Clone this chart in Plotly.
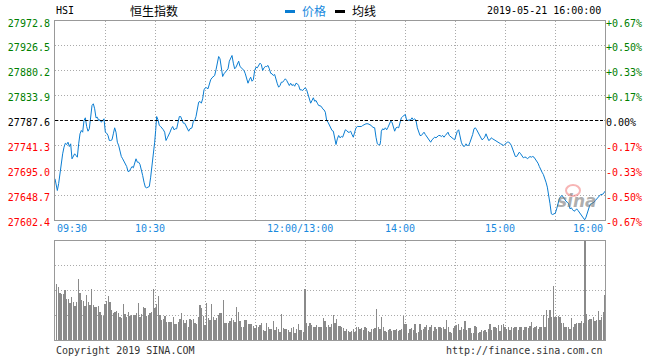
import plotly.graph_objects as go

# ---------------- data ----------------
prev_close = 27787.6
price_ticks = [27602.4, 27648.7, 27695.0, 27741.3, 27787.6, 27833.9, 27880.2, 27926.5, 27972.8]
pct_labels = ["-0.67%", "-0.50%", "-0.33%", "-0.17%", "0.00%", "+0.17%", "+0.33%", "+0.50%", "+0.67%"]
grid_minutes = [0, 30, 60, 90, 120, 150, 180, 210, 240, 270, 300, 330]
time_tick_minutes = [0, 60, 150, 210, 270, 330]
time_labels = ["09:30", "10:30", "12:00/13:00", "14:00", "15:00", "16:00"]

# trading minutes after 09:30 (lunch break removed)
minutes = [
    0, 1.0, 1.4, 2.2, 3.0, 3.8, 4.6, 5.4, 6.2, 7.0,
    7.8, 8.6, 9.4, 10.2, 11.0, 11.8, 12.6, 13.4, 14.2, 15.0,
    15.8, 16.6, 17.4, 18.2, 19.0, 19.8, 20.6, 21.4, 22.2, 23.0,
    23.8, 24.6, 25.4, 26.2, 27.0, 27.8, 28.6, 29.4, 30.2, 31.0,
    31.8, 32.6, 33.4, 34.2, 35.0, 35.8, 36.6, 37.4, 38.2, 39.0,
    39.8, 40.6, 41.4, 42.2, 43.0, 43.8, 44.6, 45.4, 46.2, 47.0,
    47.8, 48.6, 49.4, 50.2, 51.0, 51.8, 52.6, 53.4, 54.2, 55.0,
    55.8, 56.6, 57.4, 58.2, 59.0, 59.8, 60.4, 61.0, 61.8, 62.6,
    63.4, 64.2, 65.0, 65.8, 66.6, 67.4, 68.2, 69.0, 69.8, 70.6,
    71.4, 72.2, 73.0, 73.8, 74.6, 75.4, 76.2, 77.0, 77.8, 78.6,
    79.4, 80.2,
    81.0, 82.2, 83.0, 83.8, 84.6, 85.4, 86.2, 87.0, 87.8, 88.6,
    89.4, 90.2, 91.0, 91.8, 92.6, 93.4, 94.2, 95.0, 95.8, 96.6,
    97.4, 98.2, 99.0, 99.8, 100.6, 101.4, 102.2, 103.0, 103.8, 104.6,
    105.4, 106.2, 107.0, 107.8, 108.6, 109.4, 110.2, 111.0, 111.8, 112.6,
    113.4, 114.2, 115.0, 115.8, 116.6, 117.4, 118.2, 119.0, 119.8, 120.6,
    121.4, 122.2, 123.0, 123.8, 124.6, 125.4, 126.2, 127.0, 127.8, 128.6,
    129.4, 130.2, 131.0, 131.8, 132.6, 133.4, 134.2, 135.0, 135.8, 136.6,
    137.4, 138.2, 139.0, 139.8, 140.6, 141.4, 142.2, 143.0, 143.8, 144.6,
    145.4, 146.2, 147.0, 147.8, 148.6, 149.4, 150.2, 151.0, 151.8, 152.6,
    153.4, 154.2, 155.0, 155.8, 156.6, 157.4, 158.2, 159.0, 159.8, 160.6,
    161.4, 162.2, 163.0, 163.8, 164.6,
    165.4, 166.2, 167.0, 167.8, 168.6, 169.4, 170.2, 171.0, 171.8, 172.6,
    173.4, 174.2, 175.0, 175.8, 176.6, 177.4, 178.2, 179.0, 179.8, 180.6,
    181.4, 182.6, 183.8, 184.6, 185.4, 186.6, 187.8, 189.0, 189.8, 190.6,
    191.8, 192.6, 193.4, 194.2, 195.0, 195.4, 195.8, 196.6, 197.4, 198.2,
    199.0, 199.8, 200.6, 201.4, 202.2, 203.0, 203.8, 204.6, 205.4, 206.2,
    207.0, 207.8, 208.6, 209.4, 210.2, 211.0, 211.8, 212.6, 213.4, 214.2,
    215.0, 215.8, 216.6, 217.4, 218.2, 219.0, 219.8, 220.6, 221.4, 222.2,
    223.0, 223.8, 224.6, 225.4, 226.2, 227.0, 227.8, 228.6, 229.4, 230.2,
    231.0, 231.8, 232.6, 233.4, 234.2, 235.0, 235.8, 236.6, 237.4, 238.2,
    239.0, 239.8, 240.6, 241.4, 242.2, 243.0, 243.8, 244.6, 245.4, 246.2,
    246.6, 247.4, 248.2, 249.0, 249.8, 250.6, 251.4, 252.2, 253.0, 253.8,
    254.6, 255.4, 256.2, 257.0, 257.8, 258.6, 259.4, 260.2, 261.0, 261.8,
    262.6, 263.4, 264.2, 265.0, 265.8, 266.6, 267.4, 268.2, 269.0, 269.8,
    270.6, 271.4, 272.2, 273.0, 273.8, 274.6, 275.4, 276.2, 277.0, 277.8,
    278.6, 279.4, 280.2, 281.0, 281.8, 282.6, 283.4, 284.2, 285.0, 285.8,
    286.6, 287.4, 288.2, 289.0, 289.8, 290.6, 291.4, 292.2, 293.0, 293.8,
    294.6, 295.4, 296.2, 297.0, 297.8, 298.6, 299.4, 300.2, 301.0, 301.8,
    302.6, 303.4, 304.2, 305.0, 305.8, 306.6, 307.4, 308.2, 309.0, 309.8,
    310.6, 311.4, 312.2, 313.0, 313.8, 314.6, 315.4, 316.2, 317.0, 317.8,
    318.6, 319.4, 320.2, 321.0, 321.8, 322.6, 323.4, 324.2, 325.0, 325.8,
    326.6, 327.4, 328.2, 329.0, 330.0,
]
prices = [
    27679.1, 27666.6, 27657.3, 27670.3, 27691.4, 27710.0, 27725.6, 27737.9, 27745.3, 27742.9,
    27747.2, 27739.2, 27744.2, 27716.3, 27722.5, 27725.6, 27722.5, 27719.3, 27744.2, 27762.8,
    27769.0, 27765.8, 27787.6, 27792.6, 27776.4, 27767.7, 27772.2, 27790.8, 27815.5, 27818.7,
    27809.4, 27792.6, 27793.7, 27787.6, 27788.9, 27784.4, 27787.6, 27790.8, 27765.8, 27764.0,
    27759.7, 27750.4, 27750.4, 27751.7, 27762.8, 27774.0, 27765.8, 27747.2, 27741.1, 27730.5,
    27720.6, 27716.3, 27711.8, 27708.1, 27702.0, 27692.7, 27693.2, 27697.7, 27702.0, 27699.6,
    27707.0, 27716.3, 27710.0, 27710.0, 27705.7, 27697.7, 27685.2, 27672.8, 27663.5, 27662.3,
    27663.5, 27664.8, 27682.1, 27700.7, 27722.5, 27747.2, 27769.0, 27795.0, 27788.9, 27778.3,
    27776.4, 27774.0, 27770.3, 27765.8, 27750.4, 27755.4, 27759.7, 27765.8, 27772.2, 27776.4,
    27770.3, 27772.2, 27772.2, 27784.4, 27795.0, 27795.0, 27787.6, 27782.6, 27782.6, 27778.3,
    27774.0, 27767.7,
    27772.2, 27774.0, 27786.3, 27787.6, 27795.0, 27809.4, 27821.7, 27823.0, 27819.8, 27828.0,
    27844.7, 27848.5, 27848.5, 27846.6, 27857.0, 27863.4, 27867.1, 27869.5, 27871.4, 27882.0,
    27891.8, 27906.7, 27902.4, 27886.8, 27869.5, 27874.5, 27877.5, 27880.7, 27883.8, 27898.0,
    27905.4, 27908.6, 27894.3, 27883.8, 27886.8, 27891.8, 27898.0, 27888.1, 27885.7, 27883.8,
    27880.7, 27874.5, 27863.4, 27857.0, 27863.4, 27868.2, 27860.7, 27863.4, 27880.7, 27886.8,
    27885.7, 27890.0, 27894.3, 27891.8, 27880.7, 27885.7, 27888.1, 27888.1, 27890.0, 27883.8,
    27875.6, 27874.5, 27871.4, 27873.2, 27863.4, 27855.9, 27849.6, 27852.7, 27858.9, 27858.9,
    27862.1, 27865.2, 27862.1, 27855.9, 27852.7, 27857.0, 27852.7, 27854.6, 27851.4, 27857.0,
    27855.9, 27852.7, 27844.7, 27844.7, 27843.4, 27846.6, 27848.5, 27844.7, 27837.3, 27828.0,
    27819.8, 27824.8, 27829.9, 27823.5, 27824.8, 27819.8, 27815.5, 27815.0, 27813.7, 27809.4,
    27807.5, 27803.0, 27787.6, 27784.4, 27780.2,
    27774.0, 27769.0, 27767.7, 27753.5, 27742.9, 27753.5, 27759.7, 27755.4, 27757.8, 27756.5,
    27765.8, 27770.3, 27769.0, 27765.8, 27765.8, 27767.7, 27761.5, 27756.5, 27765.8, 27774.0,
    27776.4, 27776.4, 27776.4, 27778.3, 27780.2, 27781.5, 27781.5, 27780.2, 27778.3, 27775.1,
    27774.0, 27756.5, 27744.2, 27742.4, 27742.4, 27750.4, 27767.7, 27772.2, 27770.3, 27774.0,
    27770.3, 27775.1, 27781.5, 27786.3, 27784.4, 27776.4, 27767.7, 27774.0, 27775.1, 27774.0,
    27784.4, 27792.6, 27795.0, 27796.9, 27798.8, 27787.6, 27787.6, 27788.9, 27788.9, 27792.6,
    27788.9, 27790.8, 27787.6, 27774.0, 27767.7, 27759.7, 27759.7, 27764.0, 27765.8, 27761.5,
    27757.8, 27753.5, 27749.1, 27747.2, 27751.7, 27753.5, 27756.5, 27755.4, 27757.8, 27759.7,
    27759.7, 27757.8, 27759.7, 27756.5, 27759.7, 27762.8, 27765.8, 27759.7, 27756.5, 27755.4,
    27753.5, 27751.7, 27759.7, 27767.7, 27770.3, 27757.8, 27747.2, 27741.1, 27739.2, 27741.1,
    27744.2, 27741.1, 27741.1, 27747.2, 27753.5, 27761.5, 27772.2, 27774.0, 27770.3, 27765.8,
    27759.7, 27755.4, 27751.7, 27753.5, 27756.5, 27762.8, 27756.5, 27750.4, 27751.7, 27755.4,
    27753.5, 27751.7, 27750.4, 27749.1, 27747.2, 27745.3, 27744.2, 27742.9, 27741.1, 27742.9,
    27745.3, 27747.2, 27747.2, 27745.3, 27741.1, 27734.9, 27726.7, 27720.6, 27720.6, 27724.3,
    27728.6, 27725.6, 27720.6, 27718.2, 27719.3, 27719.3, 27716.3, 27718.2, 27720.6, 27719.3,
    27720.6, 27719.3, 27716.3, 27711.8, 27708.1, 27702.0, 27694.5, 27691.4, 27687.1, 27680.9,
    27672.8, 27663.5, 27651.2, 27632.6, 27613.9, 27612.6, 27613.9, 27615.1, 27623.2, 27633.7,
    27641.9, 27646.1, 27648.0, 27644.8, 27640.0, 27637.4, 27635.5, 27632.6, 27623.2, 27625.1,
    27621.4, 27618.8, 27620.1, 27623.2, 27620.1, 27616.9, 27613.9, 27610.8, 27606.5, 27602.8,
    27607.6, 27616.9, 27626.2, 27631.3, 27632.6, 27633.7, 27635.5, 27638.7, 27641.9, 27644.8,
    27648.0, 27649.9, 27649.9, 27651.2, 27656.0,
]

# per-minute volume (relative units), minutes 1..330
volumes = [
    168, 158, 140, 138, 138, 150, 123, 123, 112, 128,
    115, 102, 115, 182, 142, 120, 118, 102, 135, 115,
    105, 152, 105, 100, 98, 102, 85, 75, 72, 108,
    118, 132, 115, 90, 80, 85, 87, 80, 68, 65,
    108, 78, 68, 85, 72, 75, 75, 75, 82, 110,
    68, 78, 98, 95, 72, 75, 80, 85, 152, 95,
    108, 132, 75, 60, 62, 72, 55, 55, 54, 55,
    68, 48, 48, 55, 62, 80, 60, 50, 60, 40,
    62, 60, 62, 50, 48, 70, 105, 95, 72, 45,
    112, 65, 60, 108, 68, 60, 65, 75, 80, 82,
    120, 50, 50, 52, 58, 65, 60, 55, 98, 85,
    58, 40, 40, 60, 60, 48, 48, 48, 42, 35,
    45, 40, 45, 50, 30, 28, 50, 38, 32, 32,
    58, 30, 40, 32, 25, 78, 35, 32, 32, 30,
    25, 35, 38, 22, 32, 48, 30, 30, 25, 152,
    52, 42, 50, 45, 40, 38, 45, 40, 38, 40,
    65, 58, 40, 45, 38, 48, 75, 52, 62, 42,
    42, 38, 35, 28, 32, 28, 25, 28, 32, 25,
    38, 38, 32, 35, 30, 38, 35, 28, 25, 32,
    34, 35, 92, 38, 34, 68, 38, 28, 25, 30,
    32, 28, 30, 30, 32, 28, 30, 34, 72, 48,
    48, 22, 32, 35, 30, 48, 22, 25, 48, 30,
    32, 40, 45, 30, 38, 44, 28, 38, 32, 38,
    40, 35, 40, 34, 60, 40, 25, 22, 35, 42,
    45, 48, 30, 40, 32, 58, 30, 35, 35, 22,
    20, 42, 40, 22, 25, 30, 28, 30, 25, 32,
    48, 30, 40, 38, 35, 45, 28, 45, 48, 40,
    32, 40, 30, 38, 35, 38, 38, 30, 38, 38,
    30, 40, 38, 35, 42, 55, 35, 40, 42, 32,
    40, 40, 75, 38, 90, 65, 90, 68, 162, 68,
    68, 72, 68, 50, 50, 38, 40, 40, 32, 65,
    38, 48, 52, 50, 52, 58, 52, 400, 78, 60,
    62, 62, 68, 58, 60, 88, 60, 68, 85, 135,
]
volume_minutes = list(range(1, len(volumes) + 1))
volume_max = 297

# ---------------- styling / layout helpers ----------------
W, H = 660, 360
def px(x):
    return x / W
def py(y):
    return 1 - y / H

MONO = "DejaVu Sans Mono"
CJK = "Noto Sans CJK SC"
GREEN, RED, BLACK = "#008000", "#ff0000", "#000000"
LINE_BLUE = "#0a7dd2"
LABEL_BLUE = "#1a8ade"
GRID = "#aaaaaa"
GRID_DASH = "1px,2px"
BORDER = "#999999"

def level_color(v):
    if abs(v - prev_close) < 1e-6:
        return BLACK
    return GREEN if v > prev_close else RED

pct_vals = [(v - prev_close) / prev_close * 100 for v in price_ticks]
pct_series = [(p - prev_close) / prev_close * 100 for p in prices]

left_text = [f"<span style='color:{level_color(v)}'>{v:.1f}</span>" for v in price_ticks]
right_text = [f"<span style='color:{level_color(v)}'>{t}</span>" for v, t in zip(price_ticks, pct_labels)]

fig = go.Figure()
fig.add_trace(go.Scatter(x=minutes, y=prices, mode="lines",
                         line=dict(color=LINE_BLUE, width=1),
                         hoverinfo="skip", showlegend=False, xaxis="x", yaxis="y"))
fig.add_trace(go.Scatter(x=minutes, y=pct_series, mode="lines",
                         line=dict(color="rgba(0,0,0,0)", width=0),
                         hoverinfo="skip", showlegend=False, xaxis="x", yaxis="y2"))
fig.add_trace(go.Bar(x=volume_minutes, y=volumes, width=0.62,
                     marker=dict(color="#8a8a8a", line=dict(width=0)),
                     hoverinfo="skip", showlegend=False, xaxis="x2", yaxis="y3"))

xdom = [px(55), px(605)]
common_x = dict(domain=xdom, range=[0, 330], tickvals=grid_minutes, showticklabels=False,
                showgrid=True, gridcolor=GRID, griddash=GRID_DASH, gridwidth=1,
                showline=True, mirror=True, linecolor=BORDER, linewidth=1,
                zeroline=False, ticks="", fixedrange=True, automargin=False)

fig.update_layout(
    width=W, height=H, autosize=False,
    margin=dict(l=0, r=0, t=0, b=0, pad=0),
    paper_bgcolor="white", plot_bgcolor="white",
    showlegend=False, bargap=0,
    xaxis=dict(**common_x, anchor="y"),
    yaxis=dict(domain=[py(220), py(21)], range=[price_ticks[0], price_ticks[-1]],
               tickvals=price_ticks, ticktext=left_text, ticks="",
               tickfont=dict(family=MONO, size=10), ticklabelshift=2, ticklabelstandoff=2,
               showgrid=True, gridcolor=GRID, griddash=GRID_DASH, gridwidth=1,
               showline=True, mirror=True, linecolor=BORDER, linewidth=1,
               zeroline=False, anchor="x", fixedrange=True, automargin=False),
    yaxis2=dict(overlaying="y", side="right", anchor="x",
                range=[pct_vals[0], pct_vals[-1]], tickvals=pct_vals, ticktext=right_text,
                ticks="", tickfont=dict(family=MONO, size=10), ticklabelshift=2,
                showgrid=False, showline=False, zeroline=False, fixedrange=True,
                automargin=False),
    xaxis2=dict(**common_x, anchor="y3", matches="x"),
    yaxis3=dict(domain=[py(340), py(241)], range=[0, volume_max],
                tickvals=[volume_max * k / 4 for k in range(1, 4)], showticklabels=False,
                showgrid=True, gridcolor=GRID, griddash=GRID_DASH, gridwidth=1,
                showline=True, mirror=True, linecolor=BORDER, linewidth=1,
                zeroline=False, ticks="", anchor="x2", fixedrange=True, automargin=False),
)

shapes = [
    # previous close dashed line
    dict(type="line", xref="x", yref="y", x0=0, x1=330, y0=prev_close, y1=prev_close,
         line=dict(color="black", width=1, dash="3px,2px")),
    # legend markers
    dict(type="rect", xref="paper", yref="paper", x0=px(285), x1=px(295), y0=py(13), y1=py(10),
         fillcolor=LINE_BLUE, line=dict(width=0)),
    dict(type="rect", xref="paper", yref="paper", x0=px(335), x1=px(345), y0=py(13), y1=py(10),
         fillcolor="black", line=dict(width=0)),
    # sina watermark eye
    dict(type="circle", xref="paper", yref="paper", x0=px(566), x1=px(580), y0=py(196), y1=py(185),
         line=dict(color="rgba(240,120,120,0.55)", width=2), fillcolor="rgba(0,0,0,0)"),
]
fig.update_layout(shapes=shapes)

ann = []
def txt(text, x, y, anchor="left", color="black", family=MONO, size=10, **kw):
    ann.append(dict(text=text, x=px(x), y=py(y), xref="paper", yref="paper",
                    xanchor=anchor, yanchor="middle", showarrow=False,
                    font=dict(family=family, size=size, color=color), **kw))

txt("HSI", 54, 10)
txt("恒生指数", 154, 10, anchor="center", family=CJK, size=12)
txt("价格", 300, 10, color=LABEL_BLUE, family=CJK, size=12)
txt("均线", 350, 10, family=CJK, size=12)
txt("2019-05-21 16:00:00", 603, 10, anchor="right")
txt("Copyright 2019 SINA.COM", 54, 350, color="#333333")
txt("http://finance.sina.com.cn", 605, 350, anchor="right", color="#333333")
txt("<b><i>sina</i></b>", 577, 201, anchor="center", color="rgba(120,120,120,0.6)",
    family="DejaVu Sans", size=17)

for m, lab in zip(time_tick_minutes, time_labels):
    if m == time_tick_minutes[0]:
        xa, shift = "left", 0
    elif m == time_tick_minutes[-1]:
        xa, shift = "right", 0
    else:
        xa, shift = "center", -5
    ann.append(dict(text=lab, x=m, y=py(228), xref="x", yref="paper",
                    xanchor=xa, yanchor="middle", xshift=shift, showarrow=False,
                    font=dict(family=MONO, size=10, color=LABEL_BLUE)))

fig.update_layout(annotations=ann)

fig.write_html("out.html",
               config={"displayModeBar": False, "staticPlot": True},
               post_script="document.body.style.margin='0px';document.body.style.overflow='hidden';")
